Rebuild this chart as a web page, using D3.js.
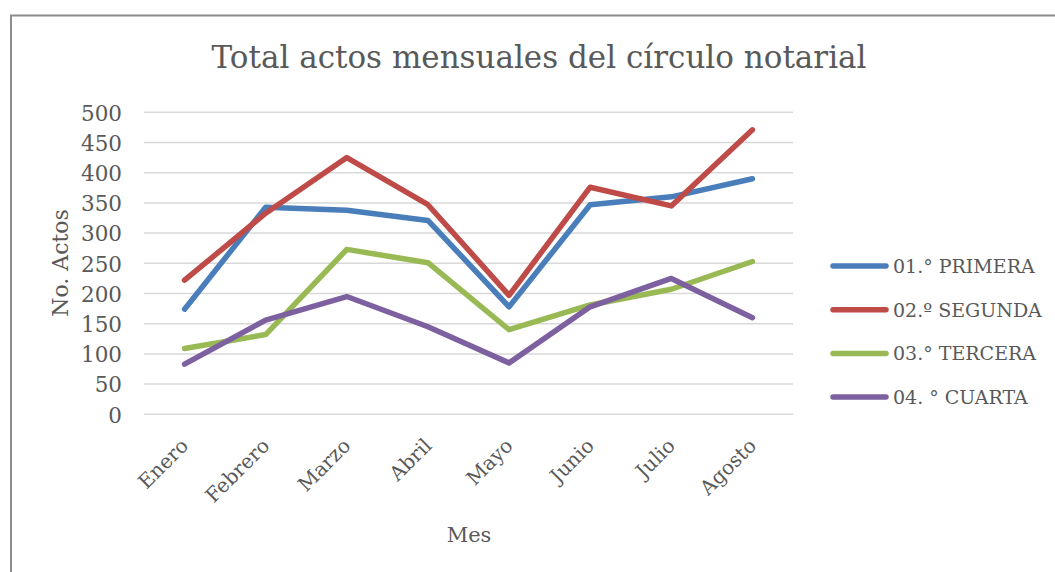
<!DOCTYPE html>
<html>
<head>
<meta charset="utf-8">
<script src="https://cdnjs.cloudflare.com/ajax/libs/d3/7.8.5/d3.min.js"></script>
<style>
    body { margin: 0; background: #fff; }
    text { font-family: "DejaVu Serif", serif; fill: #595959; }
</style>
</head>
<body>
<div id="chart"></div>
<script>
// Data
const months = ["Enero", "Febrero", "Marzo", "Abril", "Mayo", "Junio", "Julio", "Agosto"];
const seriesNames = ["01.° PRIMERA", "02.º SEGUNDA", "03.° TERCERA", "04. ° CUARTA"];
const primera = [174, 343, 338, 321, 178, 347, 360, 390];
const segunda = [222, 333, 425, 347, 197, 376, 345, 471];
const tercera = [109, 132, 273, 251, 140, 181, 207, 253];
const cuarta  = [83, 156, 195, 145, 85, 178, 225, 160];
const yTicks = [0, 50, 100, 150, 200, 250, 300, 350, 400, 450, 500];
const colors = ["#4A7EBB", "#BE4B48", "#98B954", "#7D60A0"];

function createLineChart() {
    const W = 1055, H = 572;
    const svg = d3.select("#chart").append("svg")
        .attr("width", W)
        .attr("height", H);

    // chart frame (only left and top edges visible in the crop)
    svg.append("path")
        .attr("d", `M11,${H} L11,15.5 L${W},15.5`)
        .attr("fill", "none")
        .attr("stroke", "#8c8c8c")
        .attr("stroke-width", 2);

    const x = d3.scaleBand().domain(months).range([144, 793]);
    const y = d3.scaleLinear().domain([0, 500]).range([414.3, 112.3]);

    // gridlines
    svg.append("g")
        .selectAll("line")
        .data(yTicks)
        .enter().append("line")
        .attr("x1", 144).attr("x2", 793)
        .attr("y1", d => y(d)).attr("y2", d => y(d))
        .attr("stroke", "#d9d9d9")
        .attr("stroke-width", 1.5);

    // y axis labels
    const yAxis = svg.append("g")
        .attr("transform", "translate(128,0)")
        .call(d3.axisLeft(y).tickValues(yTicks).tickSize(0).tickPadding(6));
    yAxis.select(".domain").remove();
    yAxis.selectAll("text")
        .attr("fill", "#595959")
        .style("font-size", "21.5px")
        .attr("dy", "0.36em");

    // x axis labels, rotated
    svg.append("g")
        .selectAll("text")
        .data(months)
        .enter().append("text")
        .attr("transform", d => `translate(${x(d) + x.bandwidth() / 2 + 5},447) rotate(-45)`)
        .attr("text-anchor", "end")
        .style("font-size", "20px")
        .text(d => d);

    // lines
    const allSeries = [primera, segunda, tercera, cuarta];
    const line = d3.line()
        .x((d, i) => x(months[i]) + x.bandwidth() / 2)
        .y(d => y(d));

    svg.append("g")
        .selectAll("path")
        .data(allSeries)
        .enter().append("path")
        .attr("d", d => line(d))
        .attr("fill", "none")
        .attr("stroke", (d, i) => colors[i])
        .attr("stroke-width", 5.5)
        .attr("stroke-linejoin", "round")
        .attr("stroke-linecap", "round");

    // title
    svg.append("text")
        .attr("x", 539)
        .attr("y", 68)
        .attr("text-anchor", "middle")
        .style("font-size", "31px")
        .text("Total actos mensuales del círculo notarial");

    // axis titles
    svg.append("text")
        .attr("transform", "translate(68,263) rotate(-90)")
        .attr("text-anchor", "middle")
        .style("font-size", "22px")
        .text("No. Actos");

    svg.append("text")
        .attr("x", 469)
        .attr("y", 542)
        .attr("text-anchor", "middle")
        .style("font-size", "21px")
        .text("Mes");

    // legend
    const legend = svg.append("g")
        .selectAll("g")
        .data(seriesNames)
        .enter().append("g")
        .attr("transform", (d, i) => `translate(0,${266 + i * 43.7})`);

    legend.append("line")
        .attr("x1", 833).attr("x2", 886)
        .attr("stroke", (d, i) => colors[i])
        .attr("stroke-width", 5.5)
        .attr("stroke-linecap", "round");

    legend.append("text")
        .attr("x", 893)
        .attr("y", 7)
        .style("font-size", "19px")
        .text(d => d);
}

createLineChart();
</script>
</body>
</html>
